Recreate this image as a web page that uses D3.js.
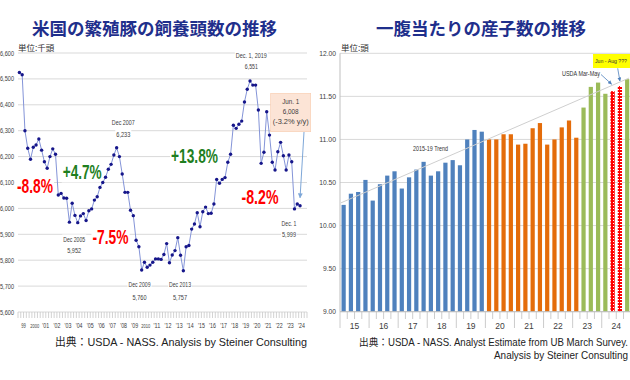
<!DOCTYPE html>
<html><head><meta charset="utf-8">
<script src="https://cdn.jsdelivr.net/npm/d3@7"></script>
<style>
body{margin:0;background:#fff;}
svg{display:block;}
</style></head><body>
<svg id="c" width="630" height="380"></svg>
<script>
// ---------- DATA ----------
// Left: US breeding hog inventory (1,000 head), quarterly Mar 1999 .. Jun 2024
const sowValues = [6525,6516,6300,6232,6190,6236,6245,6268,6225,6180,
  6155,6200,6230,6209,6052,6058,6040,6039,5947,6020,
  5973,5945,5971,5980,5953,5991,5998,6032,6045,6081,
  6100,6120,6151,6170,6206,6234,6200,6133,6062,6062,
  5993,5972,5877,5852,5762,5792,5773,5781,5792,5805,
  5805,5803,5822,5864,5790,5820,5837,5887,5819,5759,
  5852,5857,5920,5940,5983,5929,5987,6005,5980,5981,
  6017,6112,6097,6112,6119,6178,6209,6321,6309,6325,
  6337,6411,6460,6492,6476,6476,6380,6174,6217,6373,
  6283,6178,6148,6219,6255,6203,6148,6206,6180,5998,
  6017,6010];
const sowYearLabels = ["99","2000","'01","'02","'03","'04","'05","'06","'07","'08","'09","2010",
  "'11","'12","'13","'14","'15","'16","'17","'18","'19","'20","'21","'22","'23","'24"];
const sowYTicks = [5600,5700,5800,5900,6000,6100,6200,6300,6400,6500,6600];
const sowChangeLabels = ["-8.8%","+4.7%","-7.5%","+13.8%","-8.2%"];
const sowPointLabels = [["Dec 2005","5,952"],["Dec 2007","6,233"],["Dec 2009","5,760"],["Dec 2013","5,757"],["Dec. 1, 2019","6,551"],["Dec. 1","5,999"]];
const sowNoteLines = ["Jun. 1","6,008","(-3.2% y/y)"];

// Right: pigs per litter, quarterly 2015 .. 2024
const litterYearLabels = ["15","16","17","18","19","20","21","22","23","24"];
const litterValues = [10.24,10.37,10.39,10.53,10.29,10.48,10.58,10.63,10.43,10.56,
  10.65,10.74,10.58,10.63,10.73,10.76,10.70,11.00,11.11,11.09,
  11.00,11.00,11.06,11.06,10.94,10.95,11.13,11.19,10.94,11.00,11.14,11.22,11.02,
  11.37,11.61,11.66,11.53,
  11.56,11.62,11.70];
const litterKinds = [].concat(Array(20).fill("p1519"), Array(13).fill("p2023"),
  Array(4).fill("recent"), ["estMarMay","estJunAug","recent"]);
const litterYTicks = [9.00,9.50,10.00,10.50,11.00,11.50,12.00];

// ---------- SETUP ----------
const NARROW = '"Liberation Sans Narrow","Arial Narrow","Liberation Sans",Arial,sans-serif';
const SANS = '"Liberation Sans",Arial,"Noto Sans CJK JP",sans-serif';
const CJK = '"Noto Sans CJK JP","Noto Sans",sans-serif';
const svg = d3.select("#c");
const defs = svg.append("defs");

function txt(g, s, x, y, o = {}) {
  const t = g.append("text").attr("x", x).attr("y", y).text(s)
    .attr("text-anchor", o.anchor || "middle")
    .attr("dominant-baseline", "central")
    .attr("font-size", o.size || 8)
    .attr("fill", o.fill || "#404040")
    .attr("font-family", o.family || NARROW);
  if (o.weight) t.attr("font-weight", o.weight);
  if (o.width) t.attr("textLength", o.width).attr("lengthAdjust", "spacingAndGlyphs");
  if (o.bg) {
    const b = t.node().getBBox();
    g.insert("rect", () => t.node()).attr("x", b.x - 1).attr("y", b.y)
      .attr("width", b.width + 2).attr("height", b.height).attr("fill", o.bg);
  }
  return t;
}

// markers
defs.append("marker").attr("id", "arrL").attr("viewBox", "0 0 10 10").attr("refX", 9).attr("refY", 5)
  .attr("markerWidth", 5).attr("markerHeight", 5).attr("orient", "auto")
  .append("path").attr("d", "M0,0L10,5L0,10z").attr("fill", "#7ea7d8");
defs.append("marker").attr("id", "arrR").attr("viewBox", "0 0 10 10").attr("refX", 9).attr("refY", 5)
  .attr("markerWidth", 5).attr("markerHeight", 5).attr("orient", "auto")
  .append("path").attr("d", "M0,0L10,5L0,10z").attr("fill", "#4f81bd");

// patterns
const pd = defs.append("pattern").attr("id", "dotRed").attr("patternUnits", "userSpaceOnUse")
  .attr("width", 3).attr("height", 3);
pd.append("rect").attr("width", 3).attr("height", 3).attr("fill", "#ff0000");
pd.append("rect").attr("x", 1).attr("y", 1).attr("width", 1).attr("height", 1).attr("fill", "#ffffff");
const ph = defs.append("pattern").attr("id", "dashRed").attr("patternUnits", "userSpaceOnUse")
  .attr("width", 4).attr("height", 3);
ph.append("rect").attr("width", 4).attr("height", 3).attr("fill", "#ff0000");
ph.append("rect").attr("x", 0).attr("y", 2).attr("width", 3).attr("height", 1).attr("fill", "#ffffff");

// ---------- LEFT CHART ----------
const L = svg.append("g");
const nQ = sowYearLabels.length * 4;
const xL = d3.scaleBand().domain(d3.range(nQ)).range([18, 307]).padding(0);
const yL = d3.scaleLinear().domain([5600, 6600]).range([312, 53]);
const stepL = xL.step();
const cx = i => xL(i) + xL.bandwidth() / 2;

txt(L, "米国の繁殖豚の飼養頭数の推移", 154.5, 27, {size: 17.5, weight: "bold", fill: "#1f2f8c", family: CJK});
txt(L, "単位:千頭", 18, 46.5, {anchor: "start", size: 8.5, fill: "#333", family: CJK});

L.selectAll("line.grid").data(sowYTicks).join("line").attr("class", "grid")
  .attr("x1", 18).attr("x2", 307).attr("y1", d => yL(d)).attr("y2", d => yL(d))
  .attr("stroke", "#d9d9d9").attr("stroke-width", 1);
sowYTicks.forEach(v => txt(L, d3.format(",")(v), 14, yL(v), {anchor: "end", size: 7.5, width: 14, fill: "#404040"}));

// quarterly ticks
L.selectAll("line.tk").data(d3.range(nQ + 1)).join("line").attr("class", "tk")
  .attr("x1", d => 18 + d * stepL).attr("x2", d => 18 + d * stepL)
  .attr("y1", 312).attr("y2", 318).attr("stroke", "#c8c8c8").attr("stroke-width", 0.8);
sowYearLabels.forEach((s, k) => {
  txt(L, s, xL(4 * k) + stepL * 2, 325.5, {size: s.length > 3 ? 5 : 6.5, width: s.length > 3 ? 9 : s.length * 2.3, fill: "#404040"});
});

// annotations (white background)
const chPos = [[35, 185.5, 36, "#ff0000"], [82.2, 171.5, 39, "#1f7f1f"], [110.5, 236.5, 36, "#ff0000"],
  [194.5, 155.5, 47, "#1f7f1f"], [260, 196.5, 37, "#ff0000"]];
sowChangeLabels.forEach((s, k) => {
  const p = chPos[k];
  txt(L, s, p[0], p[1], {size: 20, weight: "bold", fill: p[3], width: p[2], bg: "#fff"});
});
const plPos = [[74.2, 239, 250.7, 22, 14], [123.3, 122, 134.3, 23, 14], [139.5, 284, 297, 22, 14],
  [180, 284, 297, 22, 14], [251.3, 55, 66, 31, 13], [289, 223.3, 234.3, 15, 14]];
sowPointLabels.forEach((pair, k) => {
  const p = plPos[k];
  txt(L, pair[0], p[0], p[1], {size: 7.5, width: p[3], bg: "#fff", fill: "#404040"});
  txt(L, pair[1], p[0], p[2], {size: 7.5, width: p[4], bg: "#fff", fill: "#404040"});
});

// line + markers
const line = d3.line().x((d, i) => cx(i)).y(d => yL(d));
L.append("path").datum(sowValues).attr("d", line).attr("fill", "none")
  .attr("stroke", "#8494d8").attr("stroke-width", 1);
L.selectAll("circle.pt").data(sowValues).join("circle").attr("class", "pt")
  .attr("cx", (d, i) => cx(i)).attr("cy", d => yL(d)).attr("r", 1.7).attr("fill", "#16168a");

// Jun.1 note box
L.append("rect").attr("x", 270.7).attr("y", 93.3).attr("width", 40).attr("height", 38.4)
  .attr("fill", "#fce4d6").attr("stroke", "#f8cbad").attr("stroke-width", 0.6);
sowNoteLines.forEach((s, k) => txt(L, s, 290.7, 101.7 + k * 10, {size: 7.5, fill: "#404040", family: SANS,
  width: [17, 16, 36][k]}));
const last = sowValues.length - 1;
L.append("line").attr("x1", 304).attr("y1", 132).attr("x2", cx(last)).attr("y2", yL(sowValues[last]) - 8)
  .attr("stroke", "#7ea7d8").attr("stroke-width", 1).attr("marker-end", "url(#arrL)");

txt(L, "出典：USDA - NASS. Analysis by Steiner Consulting", 55, 341.5,
  {anchor: "start", size: 11, fill: "#222", family: SANS, width: 252});

// ---------- RIGHT CHART ----------
const R = svg.append("g");
const xR = d3.scaleBand().domain(d3.range(litterValues.length)).range([340, 630.8]).paddingInner(0.42).paddingOuter(0.21);
const yR = d3.scaleLinear().domain([9, 12]).range([311.7, 53.3]);
const stepR = xR.step();

txt(R, "一腹当たりの産子数の推移", 481, 27, {size: 17.5, weight: "bold", fill: "#1f2f8c", family: CJK});
txt(R, "単位:頭", 341, 46.5, {anchor: "start", size: 8.5, fill: "#333", family: CJK});

R.selectAll("line.grid").data(litterYTicks).join("line").attr("class", "grid")
  .attr("x1", 340).attr("x2", 630).attr("y1", d => yR(d)).attr("y2", d => yR(d))
  .attr("stroke", "#d9d9d9").attr("stroke-width", 1);
litterYTicks.forEach(v => {
  const s = d3.format(".2f")(v);
  txt(R, s, 336, yR(v), {anchor: "end", size: 8, width: (s.length - 1) * 3.8 + 1.6, fill: "#404040"});
});
R.append("line").attr("x1", 340).attr("x2", 340).attr("y1", 53.3).attr("y2", 311.7)
  .attr("stroke", "#bfbfbf").attr("stroke-width", 1);

const fills = {p1519: "#4f81bd", p2023: "#e46c0a", recent: "#9bbb59", estMarMay: "url(#dotRed)", estJunAug: "url(#dashRed)"};
R.selectAll("rect.bar").data(litterValues).join("rect").attr("class", "bar")
  .attr("x", (d, i) => xR(i)).attr("width", xR.bandwidth())
  .attr("y", d => yR(d)).attr("height", d => yR(9) - yR(d))
  .attr("fill", (d, i) => fills[litterKinds[i]]);

// axis ticks & labels
const x0R = 340;
R.selectAll("line.tk").data(d3.range(litterValues.length + 1)).join("line").attr("class", "tk")
  .attr("x1", d => x0R + d * stepR).attr("x2", d => x0R + d * stepR)
  .attr("y1", 311.7).attr("y2", d => d % 4 === 0 ? 328 : 319)
  .attr("stroke", "#bfbfbf").attr("stroke-width", 0.8);
R.append("line").attr("x1", 340).attr("x2", 630).attr("y1", 311.7).attr("y2", 311.7)
  .attr("stroke", "#bfbfbf").attr("stroke-width", 1);
litterYearLabels.forEach((s, k) => txt(R, s, x0R + (4 * k + 2) * stepR, 326, {size: 8.5, fill: "#404040", family: SANS}));

// 2015-19 least-squares trend, extended
const tN = litterKinds.filter(k => k === "p1519").length;
const tIdx = d3.range(tN), tVals = litterValues.slice(0, tN);
const mx = d3.mean(tIdx), my = d3.mean(tVals);
const slope = d3.sum(tIdx, i => (i - mx) * (tVals[i] - my)) / d3.sum(tIdx, i => (i - mx) ** 2);
const icpt = my - slope * mx;
const idxAt = x => (x - (xR(0) + xR.bandwidth() / 2)) / stepR;
const tx0 = 341, tx1 = 629;
R.append("line").attr("x1", tx0).attr("y1", yR(icpt + slope * idxAt(tx0)))
  .attr("x2", tx1).attr("y2", yR(icpt + slope * idxAt(tx1)))
  .attr("stroke", "#cfcfcf").attr("stroke-width", 1);
txt(R, "2015-19 Trend", 430.5, 148.3, {size: 7.5, width: 35, fill: "#333"});

// USDA Mar-May
txt(R, "USDA Mar-May", 581, 73, {size: 7.5, width: 38, fill: "#333"});
const iM = litterKinds.indexOf("estMarMay"), iJ = litterKinds.indexOf("estJunAug");
R.append("line").attr("x1", 601).attr("y1", 74.5).attr("x2", xR(iM) + xR.bandwidth() / 2 - 1).attr("y2", yR(litterValues[iM]) - 7)
  .attr("stroke", "#4f81bd").attr("stroke-width", 0.8).attr("marker-end", "url(#arrR)");
// Jun - Aug box
R.append("rect").attr("x", 593).attr("y", 54).attr("width", 37).attr("height", 14).attr("fill", "#ffff00");
txt(R, "Jun - Aug ???", 611, 61, {size: 6, width: 32, fill: "#333"});
R.append("line").attr("x1", 617.7).attr("y1", 68.3).attr("x2", xR(iJ) + xR.bandwidth() / 2).attr("y2", yR(litterValues[iJ]) - 5)
  .attr("stroke", "#4f81bd").attr("stroke-width", 0.8).attr("marker-end", "url(#arrR)");

txt(R, "出典：USDA - NASS. Analyst Estimate from UB March Survey.", 628, 341.5,
  {anchor: "end", size: 10.5, fill: "#222", family: SANS, width: 269});
txt(R, "Analysis by Steiner Consulting", 628, 355, {anchor: "end", size: 11, fill: "#222", family: SANS, width: 134});
</script>
</body></html>
